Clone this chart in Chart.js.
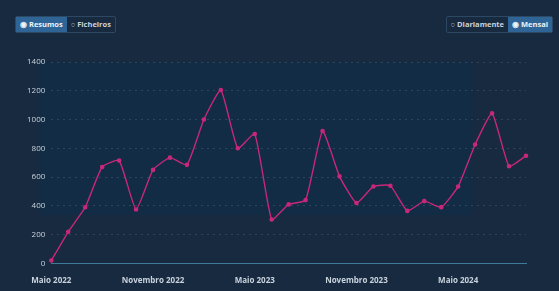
<!DOCTYPE html>
<html>
<head>
<meta charset="utf-8">
<script src="https://cdn.jsdelivr.net/npm/chart.js@4"></script>
<style>
  body { margin: 0; background: #172a3f; width: 559px; height: 291px; overflow: hidden; font-family: 'Open Sans', sans-serif; }
  .grp { position: absolute; top: 16px; display: flex; border: 1px solid #2c4862; border-radius: 2px; }
  .grp span { font-size: 7.5px; font-weight: bold; color: #c9d3de; padding: 1px 4px; line-height: 13px; }
  .grp span.on { background: #2e6496; color: #eef3f8; }
  #left { left: 15px; }
  #right { right: 6px; }
  #wrap { position: absolute; left: 0; top: 41px; width: 559px; height: 250px; }
</style>
</head>
<body>
<div class="grp" id="left"><span class="on">&#9673; Resumos</span><span>&#9675; Ficheiros</span></div>
<div class="grp" id="right"><span>&#9675; Diariamente</span><span class="on">&#9673; Mensal</span></div>
<div id="wrap"><canvas id="chart"></canvas></div>
<script>
var months = ['Maio 2022', 'Junho 2022', 'Julho 2022', 'Agosto 2022', 'Setembro 2022', 'Outubro 2022',
  'Novembro 2022', 'Dezembro 2022', 'Janeiro 2023', 'Fevereiro 2023', 'Março 2023', 'Abril 2023',
  'Maio 2023', 'Junho 2023', 'Julho 2023', 'Agosto 2023', 'Setembro 2023', 'Outubro 2023',
  'Novembro 2023', 'Dezembro 2023', 'Janeiro 2024', 'Fevereiro 2024', 'Março 2024', 'Abril 2024',
  'Maio 2024', 'Junho 2024', 'Julho 2024', 'Agosto 2024', 'Setembro 2024'];
var resumos = [20, 220, 390, 670, 715, 375, 650, 735, 685, 1000, 1205, 800, 900, 305, 410, 440, 920, 605,
  420, 535, 540, 365, 433, 391, 535, 827, 1043, 675, 748];
var yTicks = [0, 200, 400, 600, 800, 1000, 1200, 1400];

// faint bluish panel behind the plot
var panel = {
  id: 'panel',
  beforeDraw: function (chart) {
    var ctx = chart.ctx;
    ctx.save();
    ctx.fillStyle = 'rgba(10, 50, 85, 0.3)';
    ctx.fillRect(40, 21, 432, 153);
    ctx.restore();
  }
};

var ctx = document.getElementById('chart');
new Chart(ctx, {
  type: 'line',
  data: {
    labels: months,
    datasets: [{
      label: 'Resumos',
      data: resumos,
      borderColor: '#c8287a',
      backgroundColor: '#c8287a',
      borderWidth: 1.4,
      pointRadius: 1.6,
      tension: 0.15
    }]
  },
  options: {
    responsive: true,
    maintainAspectRatio: false,
    animation: false,
    layout: { padding: { top: 21, right: 33, left: 21, bottom: 0 } },
    plugins: { legend: { display: false }, tooltip: { enabled: false } },
    scales: {
      x: {
        offset: false,
        grid: { display: false },
        border: { display: true, color: '#3d7b98', width: 1 },
        ticks: {
          autoSkip: false,
          maxRotation: 0,
          color: '#c9d3de',
          font: { family: 'Open Sans', size: 8, weight: 'bold' },
          padding: 5,
          callback: function (v, i) { return i % 6 === 0 ? months[i] : ''; }
        }
      },
      y: {
        min: 0,
        max: 1400,
        afterBuildTicks: function (axis) { axis.ticks = yTicks.map(function (v) { return { value: v }; }); },
        border: { display: false, dash: [2, 4] },
        grid: {
          color: function (c) { return c.tick && c.tick.value === 0 ? 'transparent' : 'rgba(255,255,255,0.12)'; },
          drawTicks: false
        },
        ticks: {
          color: '#c9d3de',
          font: { family: 'Open Sans', size: 8 },
          padding: 6,
          callback: function (v) { return String(v); }
        }
      }
    }
  },
  plugins: [panel]
});
</script>
</body>
</html>
